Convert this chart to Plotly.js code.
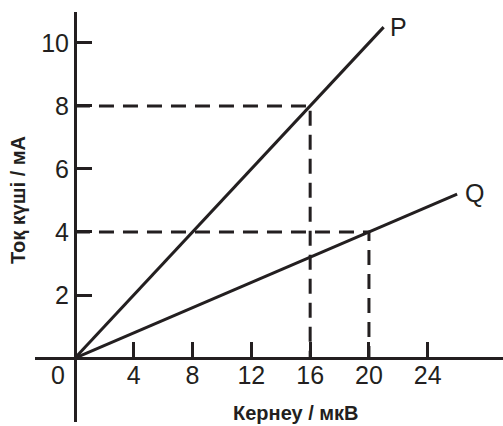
<!DOCTYPE html>
<html>
<head>
<meta charset="utf-8">
<script src="https://cdn.plot.ly/plotly-3.0.1.min.js"></script>
<style>html,body{margin:0;padding:0;background:#fff;}#chart{width:503px;height:426px;}</style>
</head>
<body>
<div id="chart"></div>
<script>
// Data
const pVoltage = [0, 21];
const pCurrent = [0, 10.5];
const qVoltage = [0, 26];
const qCurrent = [0, 5.2];
const pGuideX = [0, 16, 16];
const pGuideY = [8, 8, 0];
const qGuideX = [0, 20, 20];
const qGuideY = [4, 4, 0];
const xTickVals = [4, 8, 12, 16, 20, 24];
const yTickVals = [2, 4, 6, 8, 10];
const xTitle = 'Кернеу / мкВ';
const yTitle = 'Тоқ күші / мА';

const ink = '#231f20';
const font = 'Liberation Sans, Arial, sans-serif';

const traces = [
  {x: pGuideX, y: pGuideY, mode: 'lines', line: {color: ink, width: 3, dash: '15px,9px'}, hoverinfo: 'skip', showlegend: false},
  {x: qGuideX, y: qGuideY, mode: 'lines', line: {color: ink, width: 3, dash: '15px,9px'}, hoverinfo: 'skip', showlegend: false},
  {x: pVoltage, y: pCurrent, mode: 'lines', name: 'P', line: {color: ink, width: 3}, showlegend: false},
  {x: qVoltage, y: qCurrent, mode: 'lines', name: 'Q', line: {color: ink, width: 3}, showlegend: false}
];

const layout = {
  width: 503, height: 426,
  margin: {l: 35, r: 0, t: 12, b: 4, pad: 0},
  paper_bgcolor: '#fff', plot_bgcolor: '#fff',
  font: {family: font, color: ink, size: 25},
  showlegend: false,
  xaxis: {
    range: [-2.72, 29.12], anchor: 'free', position: 0.156,
    showline: true, linecolor: ink, linewidth: 3,
    showgrid: false, zeroline: false,
    tickmode: 'array', tickvals: xTickVals,
    ticks: 'inside', ticklen: 15, tickwidth: 3, tickcolor: ink,
    ticklabelstandoff: -6,
    tickfont: {size: 25, color: ink, family: font}
  },
  yaxis: {
    range: [-2.03, 10.98], anchor: 'free', position: 0.0855,
    showline: true, linecolor: ink, linewidth: 3,
    showgrid: false, zeroline: false,
    tickmode: 'array', tickvals: yTickVals,
    ticks: 'inside', ticklen: 15, tickwidth: 3, tickcolor: ink,
    tickfont: {size: 25, color: ink, family: font}
  },
  annotations: [
    {text: '0', x: -1.16, y: -0.54, xref: 'x', yref: 'y', xanchor: 'center', yanchor: 'middle', showarrow: false, font: {size: 25, color: ink, family: font}},
    {text: 'P', x: 22.04, y: 10.5, xref: 'x', yref: 'y', xanchor: 'center', yanchor: 'middle', showarrow: false, font: {size: 25, color: ink, family: font}},
    {text: 'Q', x: 27.2, y: 5.24, xref: 'x', yref: 'y', xanchor: 'center', yanchor: 'middle', showarrow: false, font: {size: 25, color: ink, family: font}},
    {text: '<b>' + xTitle + '</b>', x: (296 - 35) / 468, y: (422 - 413) / 410, xref: 'paper', yref: 'paper', xanchor: 'center', yanchor: 'middle', showarrow: false, font: {size: 20, color: ink, family: font}},
    {text: '<b>' + yTitle + '</b>', x: (18 - 35) / 468, y: (422 - 200) / 410, xref: 'paper', yref: 'paper', xanchor: 'center', yanchor: 'middle', textangle: -90, showarrow: false, font: {size: 20, color: ink, family: font}}
  ]
};

Plotly.newPlot('chart', traces, layout, {staticPlot: true, displayModeBar: false});
</script>
</body>
</html>
